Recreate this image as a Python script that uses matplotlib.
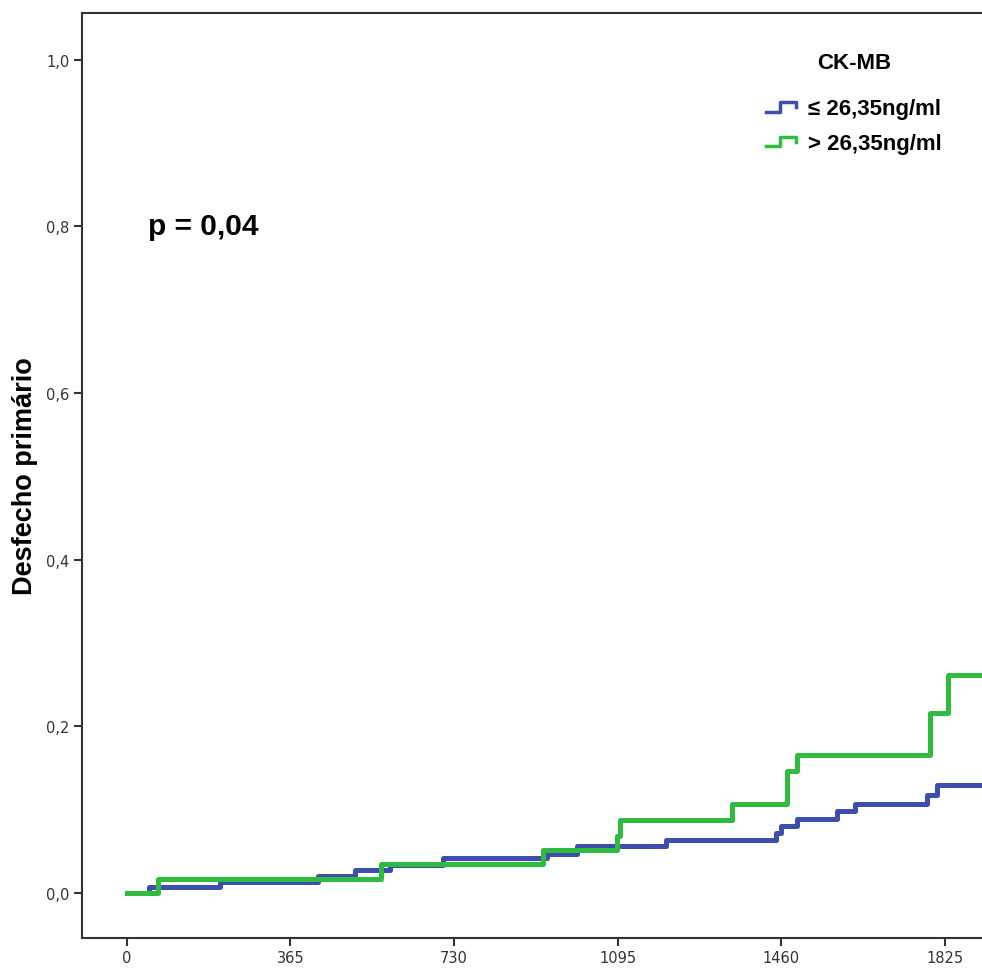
import matplotlib
matplotlib.use("Agg")
import matplotlib.pyplot as plt
from matplotlib.lines import Line2D
from matplotlib.legend_handler import HandlerBase
from matplotlib.ticker import FuncFormatter

# tempo (dias) e incidência acumulada
blue_t = [0, 49, 208, 426, 509, 587, 706, 937, 1004, 1202, 1449, 1460, 1495, 1584, 1625, 1786, 1807, 2100]
blue_y = [0, 0.007, 0.013, 0.021, 0.028, 0.034, 0.042, 0.047, 0.056, 0.064, 0.072, 0.080, 0.089, 0.098, 0.107, 0.118, 0.130, 0.130]

green_t = [0, 69, 567, 929, 1093, 1100, 1351, 1472, 1495, 1791, 1793, 1833, 2100]
green_y = [0, 0.017, 0.035, 0.052, 0.069, 0.088, 0.107, 0.146, 0.166, 0.19, 0.216, 0.262, 0.262]

labels = ["\u2264 26,35ng/ml", "> 26,35ng/ml"]
xticks = [0, 365, 730, 1095, 1460, 1825]
yticks = [0.0, 0.2, 0.4, 0.6, 0.8, 1.0]

BLUE = "#3d4fae"
GREEN = "#2fbb3f"
AX = "#333333"


class StepHandler(HandlerBase):
    # petit symbole en escalier pour la légende
    def create_artists(self, legend, orig_handle, xdescent, ydescent,
                       width, height, fontsize, trans):
        w, h = width, height
        xs = [0, 0.45 * w, 0.45 * w, w, w]
        ys = [0.15 * h, 0.15 * h, 0.75 * h, 0.75 * h, 0.45 * h]
        ln = Line2D([x - xdescent for x in xs], [y - ydescent for y in ys],
                    color=orig_handle.get_color(), lw=2.5, transform=trans)
        return [ln]


fig = plt.figure(figsize=(9.82, 9.70), dpi=100)
ax = fig.add_axes([82 / 982, 31 / 970, 986 / 982, 925 / 970])

hb, = ax.step(blue_t, blue_y, where="post", color=BLUE, lw=3.6)
hg, = ax.step(green_t, green_y, where="post", color=GREEN, lw=3.6)

ax.set_xlim(-100, 2100)
ax.set_ylim(-0.054, 1.056)
ax.set_xticks(xticks)
ax.set_yticks(yticks)
ax.yaxis.set_major_formatter(FuncFormatter(lambda v, p: f"{v:.1f}".replace(".", ",")))

for s in ["left", "bottom", "top"]:
    ax.spines[s].set_color(AX)
    ax.spines[s].set_linewidth(1.5)
ax.spines["right"].set_visible(False)
ax.tick_params(direction="out", length=6, width=1.5, color=AX,
               labelsize=10.5, labelcolor="#333333", pad=3)

ax.set_ylabel("Desfecho primário", fontsize=19.5, fontweight="bold",
              family="Liberation Sans", labelpad=6)

ax.text(47, 0.8, "p = 0,04", fontsize=21.5, fontweight="bold",
        family="Liberation Sans", va="center", ha="left")

leg = ax.legend([hb, hg], labels, title="CK-MB", frameon=False,
                handler_map={Line2D: StepHandler()},
                loc="upper left", bbox_to_anchor=(746 / 982, 1 - 33 / 970),
                bbox_transform=fig.transFigure,
                prop={"family": "Liberation Sans", "weight": "bold", "size": 16},
                handlelength=1.35, handletextpad=0.55, labelspacing=0.62)
leg.get_title().set_fontweight("bold")
leg.get_title().set_fontsize(16)
leg.get_title().set_family("Liberation Sans")
leg._legend_box.sep = 18

fig.savefig("out.png", dpi=100)
